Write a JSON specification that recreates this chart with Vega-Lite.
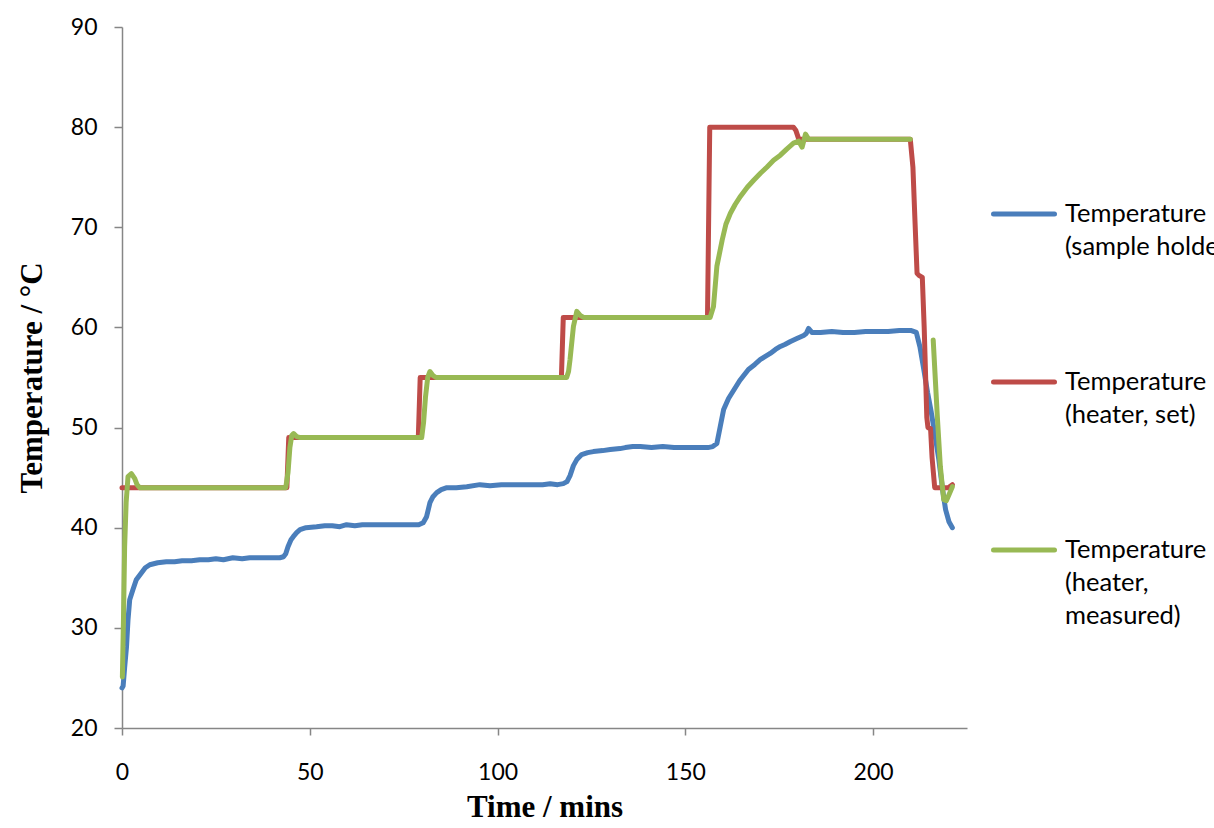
{
  "$schema": "https://vega.github.io/schema/vega-lite/v6.json",
  "width": 845,
  "height": 701,
  "autosize": "none",
  "padding": {"left": 122, "top": 27, "right": 247, "bottom": 100},
  "background": "white",
  "config": {
    "view": {"stroke": null},
    "axis": {
      "grid": false,
      "domainColor": "#868686",
      "domainWidth": 1.5,
      "tickColor": "#868686",
      "tickWidth": 1.5,
      "labelFont": "Lato",
      "labelFontSize": 23,
      "labelColor": "#000000",
      "titleFont": "Liberation Serif",
      "titleFontWeight": "bold",
      "titleFontSize": 31,
      "titleColor": "#000000"
    }
  },
  "data": {
    "values": [
      {"t":0,"T":24.0,"s":"h"},{"t":0.3,"T":24.2,"s":"h"},{"t":0.7,"T":26.0,"s":"h"},{"t":1.2,"T":28.1,"s":"h"},{"t":1.6,"T":30.8,"s":"h"},{"t":2.05,"T":32.8,"s":"h"},{"t":2.9,"T":33.8,"s":"h"},{"t":3.8,"T":34.8,"s":"h"},{"t":5.2,"T":35.5,"s":"h"},{"t":6.2,"T":36.0,"s":"h"},{"t":7.4,"T":36.3,"s":"h"},{"t":9.5,"T":36.5,"s":"h"},{"t":11.8,"T":36.6,"s":"h"},{"t":14,"T":36.6,"s":"h"},{"t":16,"T":36.7,"s":"h"},{"t":18.5,"T":36.7,"s":"h"},{"t":20.7,"T":36.8,"s":"h"},{"t":23,"T":36.8,"s":"h"},{"t":25,"T":36.9,"s":"h"},{"t":27,"T":36.8,"s":"h"},{"t":29.5,"T":37.0,"s":"h"},{"t":32,"T":36.9,"s":"h"},{"t":34,"T":37.0,"s":"h"},{"t":36,"T":37.0,"s":"h"},{"t":38,"T":37.0,"s":"h"},{"t":40,"T":37.0,"s":"h"},{"t":42,"T":37.0,"s":"h"},{"t":43,"T":37.1,"s":"h"},{"t":43.6,"T":37.4,"s":"h"},{"t":44.2,"T":38.1,"s":"h"},{"t":45.0,"T":38.8,"s":"h"},{"t":45.6,"T":39.1,"s":"h"},{"t":46.5,"T":39.5,"s":"h"},{"t":47.4,"T":39.8,"s":"h"},{"t":49,"T":40.0,"s":"h"},{"t":51.8,"T":40.1,"s":"h"},{"t":54,"T":40.2,"s":"h"},{"t":56,"T":40.2,"s":"h"},{"t":58,"T":40.1,"s":"h"},{"t":59.8,"T":40.3,"s":"h"},{"t":62,"T":40.2,"s":"h"},{"t":64,"T":40.3,"s":"h"},{"t":67,"T":40.3,"s":"h"},{"t":70,"T":40.3,"s":"h"},{"t":73,"T":40.3,"s":"h"},{"t":76,"T":40.3,"s":"h"},{"t":79,"T":40.3,"s":"h"},{"t":80.2,"T":40.5,"s":"h"},{"t":81.1,"T":41.1,"s":"h"},{"t":82,"T":42.5,"s":"h"},{"t":82.8,"T":43.1,"s":"h"},{"t":83.8,"T":43.5,"s":"h"},{"t":85,"T":43.8,"s":"h"},{"t":86.5,"T":44.0,"s":"h"},{"t":89,"T":44.0,"s":"h"},{"t":91.8,"T":44.1,"s":"h"},{"t":95.3,"T":44.3,"s":"h"},{"t":98,"T":44.2,"s":"h"},{"t":101,"T":44.3,"s":"h"},{"t":105,"T":44.3,"s":"h"},{"t":109,"T":44.3,"s":"h"},{"t":112,"T":44.3,"s":"h"},{"t":114,"T":44.4,"s":"h"},{"t":116,"T":44.3,"s":"h"},{"t":117.5,"T":44.4,"s":"h"},{"t":118.5,"T":44.6,"s":"h"},{"t":119.3,"T":45.2,"s":"h"},{"t":120.2,"T":46.2,"s":"h"},{"t":121.1,"T":46.8,"s":"h"},{"t":122.4,"T":47.3,"s":"h"},{"t":124,"T":47.5,"s":"h"},{"t":125.5,"T":47.6,"s":"h"},{"t":128,"T":47.7,"s":"h"},{"t":130,"T":47.8,"s":"h"},{"t":132.6,"T":47.9,"s":"h"},{"t":134,"T":48.0,"s":"h"},{"t":136,"T":48.1,"s":"h"},{"t":138,"T":48.1,"s":"h"},{"t":141,"T":48.0,"s":"h"},{"t":144,"T":48.1,"s":"h"},{"t":147,"T":48.0,"s":"h"},{"t":150,"T":48.0,"s":"h"},{"t":153,"T":48.0,"s":"h"},{"t":156,"T":48.0,"s":"h"},{"t":157.3,"T":48.1,"s":"h"},{"t":158.4,"T":48.4,"s":"h"},{"t":159.3,"T":50.1,"s":"h"},{"t":160.2,"T":51.8,"s":"h"},{"t":161.5,"T":52.9,"s":"h"},{"t":163,"T":53.8,"s":"h"},{"t":164.5,"T":54.7,"s":"h"},{"t":166.8,"T":55.8,"s":"h"},{"t":168.5,"T":56.3,"s":"h"},{"t":170,"T":56.8,"s":"h"},{"t":171.3,"T":57.1,"s":"h"},{"t":172.6,"T":57.4,"s":"h"},{"t":174,"T":57.8,"s":"h"},{"t":175.3,"T":58.1,"s":"h"},{"t":176.5,"T":58.3,"s":"h"},{"t":178,"T":58.6,"s":"h"},{"t":179.7,"T":58.9,"s":"h"},{"t":181.5,"T":59.2,"s":"h"},{"t":182.2,"T":59.4,"s":"h"},{"t":182.8,"T":59.9,"s":"h"},{"t":183.7,"T":59.5,"s":"h"},{"t":186,"T":59.5,"s":"h"},{"t":189,"T":59.6,"s":"h"},{"t":192,"T":59.5,"s":"h"},{"t":195,"T":59.5,"s":"h"},{"t":198,"T":59.6,"s":"h"},{"t":201,"T":59.6,"s":"h"},{"t":204,"T":59.6,"s":"h"},{"t":207,"T":59.7,"s":"h"},{"t":210,"T":59.7,"s":"h"},{"t":211.5,"T":59.5,"s":"h"},{"t":212.5,"T":58.0,"s":"h"},{"t":213.5,"T":55.8,"s":"h"},{"t":214.5,"T":53.5,"s":"h"},{"t":215.5,"T":51.5,"s":"h"},{"t":216.5,"T":49.2,"s":"h"},{"t":217.5,"T":46.8,"s":"h"},{"t":218.5,"T":43.8,"s":"h"},{"t":219.3,"T":41.8,"s":"h"},{"t":220.2,"T":40.6,"s":"h"},{"t":221.1,"T":40.0,"s":"h"},
      {"t":0,"T":44.0,"s":"s"},{"t":43.9,"T":44.0,"s":"s"},{"t":44.4,"T":49.0,"s":"s"},{"t":78.9,"T":49.0,"s":"s"},{"t":79.4,"T":55.0,"s":"s"},{"t":117.0,"T":55.0,"s":"s"},{"t":117.5,"T":61.0,"s":"s"},{"t":155.9,"T":61.0,"s":"s"},{"t":156.5,"T":80.0,"s":"s"},{"t":178.8,"T":80.0,"s":"s"},{"t":179.4,"T":79.7,"s":"s"},{"t":180.2,"T":78.8,"s":"s"},{"t":209.9,"T":78.8,"s":"s"},{"t":210.6,"T":76.0,"s":"s"},{"t":211.1,"T":71.1,"s":"s"},{"t":211.7,"T":65.4,"s":"s"},{"t":212.2,"T":65.2,"s":"s"},{"t":213.1,"T":65.0,"s":"s"},{"t":213.6,"T":60.0,"s":"s"},{"t":214.3,"T":51.0,"s":"s"},{"t":214.6,"T":50.0,"s":"s"},{"t":215.3,"T":49.9,"s":"s"},{"t":215.7,"T":47.0,"s":"s"},{"t":216.4,"T":44.0,"s":"s"},{"t":220.0,"T":44.0,"s":"s"},{"t":221.1,"T":44.3,"s":"s"},
      {"t":0.1,"T":25.1,"s":"m"},{"t":0.4,"T":31.0,"s":"m"},{"t":0.7,"T":38.1,"s":"m"},{"t":1.1,"T":42.5,"s":"m"},{"t":1.6,"T":45.1,"s":"m"},{"t":2.5,"T":45.4,"s":"m"},{"t":3.4,"T":44.9,"s":"m"},{"t":4.0,"T":44.3,"s":"m"},{"t":4.7,"T":44.0,"s":"m"},{"t":43.6,"T":44.0,"s":"m"},{"t":44.2,"T":45.5,"s":"m"},{"t":44.7,"T":48.0,"s":"m"},{"t":45.2,"T":49.2,"s":"m"},{"t":45.7,"T":49.4,"s":"m"},{"t":46.5,"T":49.1,"s":"m"},{"t":47.5,"T":49.0,"s":"m"},{"t":79.8,"T":49.0,"s":"m"},{"t":80.3,"T":50.5,"s":"m"},{"t":80.8,"T":53.0,"s":"m"},{"t":81.4,"T":55.0,"s":"m"},{"t":82.0,"T":55.6,"s":"m"},{"t":82.8,"T":55.2,"s":"m"},{"t":83.6,"T":55.0,"s":"m"},{"t":118.4,"T":55.0,"s":"m"},{"t":118.9,"T":55.6,"s":"m"},{"t":119.3,"T":56.8,"s":"m"},{"t":120.2,"T":60.1,"s":"m"},{"t":121.1,"T":61.6,"s":"m"},{"t":122.0,"T":61.2,"s":"m"},{"t":122.9,"T":61.0,"s":"m"},{"t":156.6,"T":61.0,"s":"m"},{"t":157.5,"T":62.1,"s":"m"},{"t":158.4,"T":66.1,"s":"m"},{"t":159.8,"T":68.7,"s":"m"},{"t":160.8,"T":70.3,"s":"m"},{"t":162.0,"T":71.4,"s":"m"},{"t":163.3,"T":72.3,"s":"m"},{"t":164.7,"T":73.1,"s":"m"},{"t":166.5,"T":74.0,"s":"m"},{"t":168.2,"T":74.7,"s":"m"},{"t":170.0,"T":75.4,"s":"m"},{"t":171.7,"T":76.0,"s":"m"},{"t":173.5,"T":76.7,"s":"m"},{"t":175.3,"T":77.2,"s":"m"},{"t":177.0,"T":77.8,"s":"m"},{"t":178.8,"T":78.4,"s":"m"},{"t":180.2,"T":78.6,"s":"m"},{"t":181.1,"T":78.0,"s":"m"},{"t":182.0,"T":79.3,"s":"m"},{"t":182.8,"T":78.8,"s":"m"},{"t":209.9,"T":78.8,"s":"m"},{"t":212.0,"T":null,"s":"m"},{"t":216.0,"T":58.75,"s":"m"},{"t":217.1,"T":51.1,"s":"m"},{"t":217.9,"T":46.1,"s":"m"},{"t":218.8,"T":42.8,"s":"m"},{"t":219.5,"T":42.7,"s":"m"},{"t":220.2,"T":43.3,"s":"m"},{"t":221.1,"T":44.1,"s":"m"}
    ]
  },
  "mark": {"type": "line", "strokeWidth": 5, "strokeJoin": "round", "strokeCap": "round", "invalid": "break-paths-filter-domains"},
  "encoding": {
    "x": {
      "field": "t", "type": "quantitative",
      "scale": {"domain": [0, 225], "nice": false, "zero": false},
      "axis": {"values": [0, 50, 100, 150, 200], "tickSize": 7, "labelPadding": 26, "labelFlush": false, "title": "Time / mins", "titlePadding": 8}
    },
    "y": {
      "field": "T", "type": "quantitative",
      "scale": {"domain": [20, 90], "nice": false, "zero": false},
      "axis": {"values": [20, 30, 40, 50, 60, 70, 80, 90], "tickSize": 8, "labelPadding": 17, "title": "Temperature / °C", "titlePadding": 22}
    },
    "color": {
      "field": "s", "type": "nominal",
      "scale": {"domain": ["h", "s", "m"], "range": ["#4A7EBB", "#BE4B48", "#98B954"]},
      "legend": {
        "title": null,
        "orient": "none",
        "legendX": 869,
        "legendY": 154,
        "symbolType": "stroke",
        "symbolSize": 3721,
        "symbolStrokeWidth": 5,
        "labelFont": "Lato",
        "labelFontSize": 25.5,
        "labelColor": "#000000",
        "labelBaseline": "top",
        "labelOffset": 8,
        "labelLimit": 1000,
        "gridAlign": "all",
        "rowPadding": 55,
        "padding": 0,
        "labelExpr": "datum.value == 'h' ? ['Temperature', '(sample holder)'] : datum.value == 's' ? ['Temperature', '(heater, set)'] : ['Temperature', '(heater,', 'measured)']",
        "encode": {
          "symbols": {"update": {"strokeCap": {"value": "round"}}},
          "labels": {"update": {"dy": {"value": -12}, "lineHeight": {"value": 33}}}
        }
      }
    }
  }
}
